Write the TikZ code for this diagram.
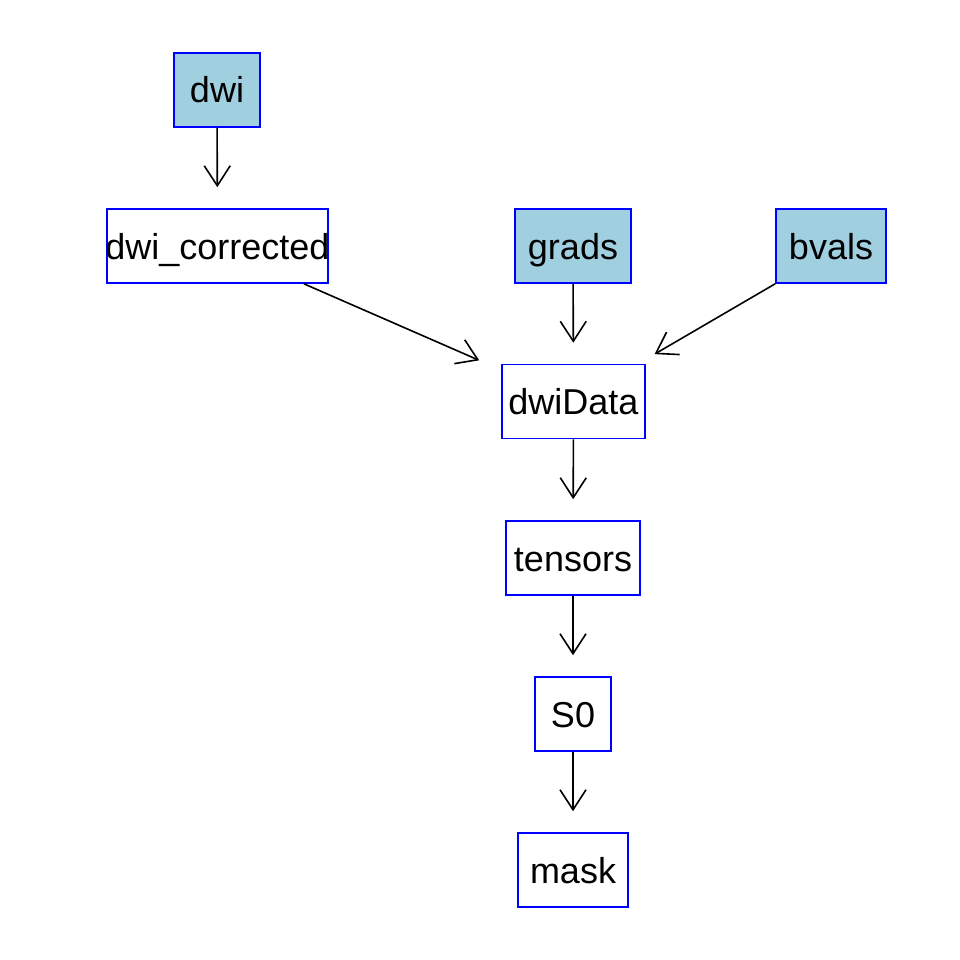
\documentclass[tikz,border=0pt]{standalone}
\usepackage{fontspec}
\setmainfont{Liberation Sans}
\usetikzlibrary{arrows.meta}
\definecolor{boxfill}{RGB}{160,207,224}
\definecolor{boxline}{RGB}{0,0,255}
\begin{document}
\begin{tikzpicture}[x=1pt,y=-1pt,
  box/.style={draw=boxline,line width=1.6pt,inner sep=0pt,minimum height=74pt,
    font=\fontsize{36}{42}\selectfont,text height=30pt,text depth=4pt},
  src/.style={box,fill=boxfill},
  edge/.style={line width=1.6pt,-{Straight Barb[length=20pt,width=26pt,line width=1.6pt]}}]
\useasboundingbox (0,0) rectangle (960,960);
\node[src,minimum width=86pt] (dwi) at (217,90) {dwi};
\node[box,minimum width=221pt,text width=221pt,align=center] (dwic) at (217.5,246) {\makebox[221pt]{dwi\_corrected}};
\node[src,minimum width=116pt] (grads) at (573,246) {grads};
\node[src,minimum width=110pt] (bvals) at (831,246) {bvals};
\node[box,minimum width=143pt] (dwiData) at (573.5,401.5) {dwiData};
\node[box,minimum width=134pt] (tensors) at (573,558) {tensors};
\node[box,minimum width=76pt] (S0) at (573,714) {S0};
\node[box,minimum width=110pt] (mask) at (573,870) {mask};
\draw[edge,shorten >=21pt] (dwi) -- (dwic);
\draw[edge,shorten >=24pt] (dwic) -- (dwiData);
\draw[edge,shorten >=21pt] (grads) -- (dwiData);
\draw[edge,shorten >=19pt] (bvals.south west) -- (dwiData);
\draw[edge,shorten >=21pt] (dwiData) -- (tensors);
\draw[edge,shorten >=21pt] (tensors) -- (S0);
\draw[edge,shorten >=21pt] (S0) -- (mask);
\end{tikzpicture}
\end{document}
